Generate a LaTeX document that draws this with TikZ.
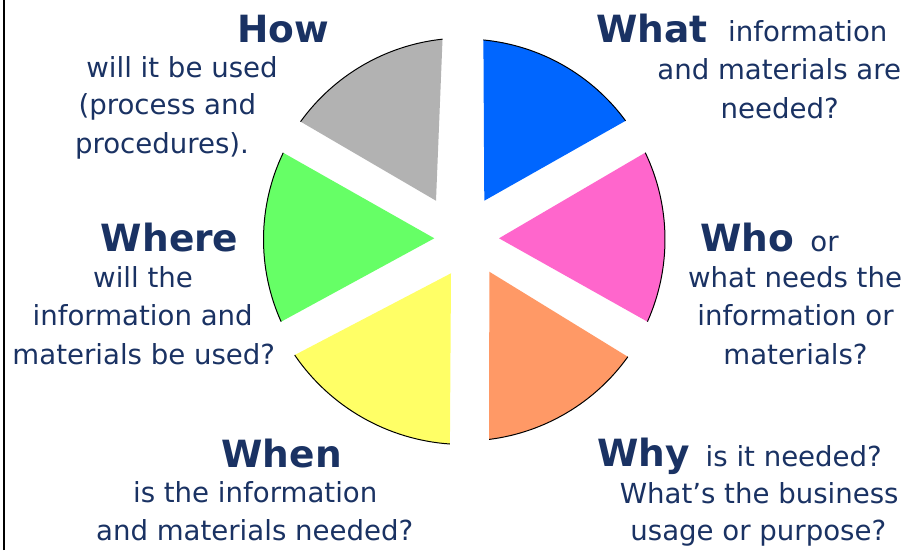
\documentclass[tikz,border=0pt]{standalone}
\usepackage{fontspec}
\setmainfont{DejaVu Sans}
\usetikzlibrary{calc}
\definecolor{navy}{RGB}{26,50,99}
\definecolor{sblue}{HTML}{0066FF}
\definecolor{spink}{HTML}{FF66CC}
\definecolor{sorange}{HTML}{FF9966}
\definecolor{syellow}{HTML}{FFFF66}
\definecolor{sgreen}{HTML}{66FF66}
\definecolor{sgray}{HTML}{B2B2B2}
\newcommand\mkpieslice[5]{%
  \fill[#1] (#2) -- ($(G)+(#3:#5)$) arc[start angle=#3,end angle=#4,radius=#5] -- cycle;
  \draw[rim] ($(G)+(#3:#5)$) arc[start angle=#3,end angle=#4,radius=#5];
}
\begin{document}
\begin{tikzpicture}[x=1pt,y=1pt,
  lbl/.style={anchor=base,inner sep=0pt,text=navy,font=\fontsize{27.6}{33}\selectfont},
  hd/.style={anchor=base,inner sep=0pt,text=navy,font=\fontsize{37.5}{45}\selectfont\bfseries},
  rim/.style={draw=black,line width=1pt}]
\useasboundingbox (0,0) rectangle (908,550);
\fill[white] (0,0) rectangle (908,550);
\draw[line width=2pt] (3.5,0) -- (3.5,550);
\coordinate (G) at (464,310.5);
\coordinate (blueA) at (484.3,349.3);
\coordinate (pinkA) at (499,311.7);
\coordinate (orangeA) at (489.3,278.3);
\coordinate (yellowA) at (451,276.7);
\coordinate (greenA) at (434.3,311.7);
\coordinate (grayA) at (436,349.3);
\mkpieslice{sblue}{blueA}{84.45}{36.3}{200.5}
\mkpieslice{spink}{pinkA}{25.6}{-24.13}{201}
\mkpieslice{sorange}{orangeA}{-35.6}{-82.83}{201.5}
\mkpieslice{syellow}{yellowA}{266.06}{214.31}{205}
\mkpieslice{sgreen}{greenA}{204.2}{154.37}{200.5}
\mkpieslice{sgray}{grayA}{144.2}{96.12}{201.5}
% How
\node[hd]  (howT) at (283.5,507.3) {How};
\node[lbl] (how1) at (182,472.7) {will it be used};
\node[lbl] (how2) at (167.3,435) {(process and};
\node[lbl] (how3) at (162,396) {procedures).};
% What
\node[hd]  (whatT) at (651.8,507.3) {What};
\node[lbl] (what0) at (807.8,508) {information};
\node[lbl] (what1) at (779.2,470) {and materials are};
\node[lbl] (what2) at (779.7,431.7) {needed?};
% Where
\node[hd]  (whereT) at (169.7,298.3) {Where};
\node[lbl] (where1) at (143,262.7) {will the};
\node[lbl] (where2) at (142.7,225) {information and};
\node[lbl] (where3) at (143.8,186) {materials be used?};
% Who
\node[hd]  (whoT) at (747.5,298.3) {Who};
\node[lbl] (who0) at (824.5,298.3) {or};
\node[lbl] (who1) at (795,262.7) {what needs the};
\node[lbl] (who2) at (795.5,225) {information or};
\node[lbl] (who3) at (795.5,186) {materials?};
% When
\node[hd]  (whenT) at (281.7,82.3) {When};
\node[lbl] (when1) at (255.2,47.3) {is the information};
\node[lbl] (when2) at (254.7,10) {and materials needed?};
% Why
\node[hd]  (whyT) at (643.3,83.3) {Why};
\node[lbl] (why0) at (793.8,83.3) {is it needed?};
\node[lbl] (why1) at (759.2,46.7) {What’s the business};
\node[lbl] (why2) at (758.3,10) {usage or purpose?};
\end{tikzpicture}
\end{document}
